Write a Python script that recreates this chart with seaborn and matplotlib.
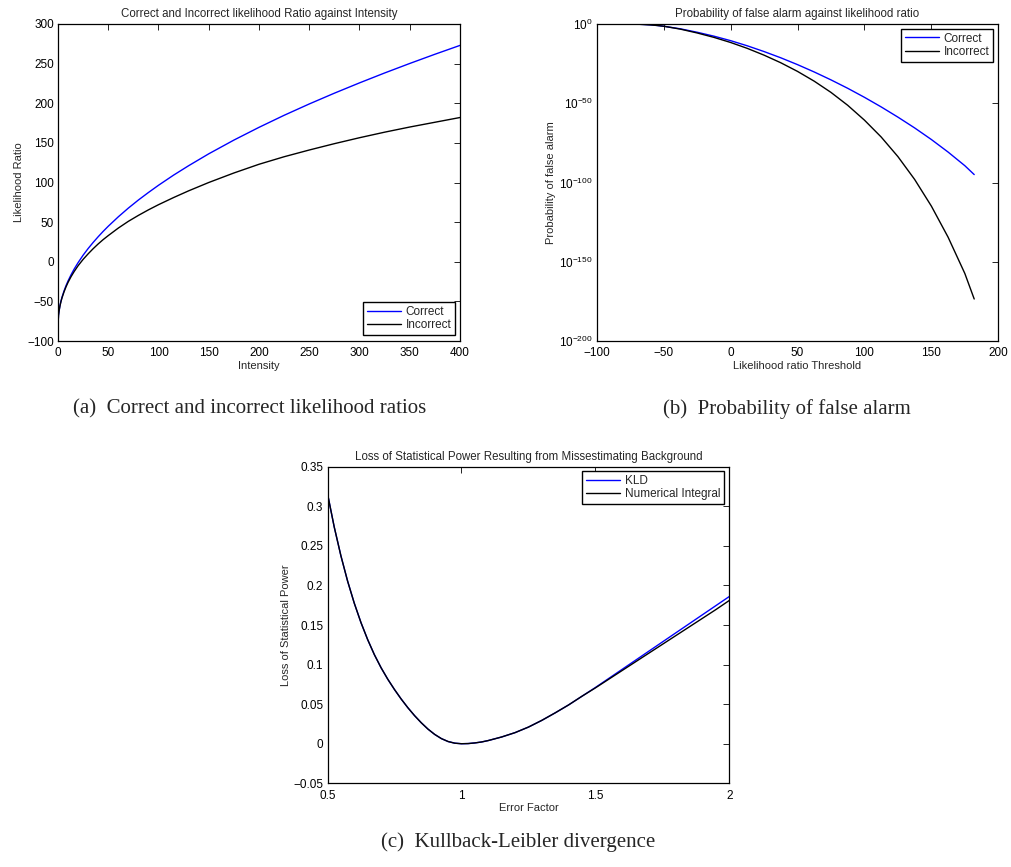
import numpy as np
import pandas as pd
import matplotlib
matplotlib.use("Agg")
import matplotlib.pyplot as plt
from matplotlib.ticker import FixedLocator, FixedFormatter, NullLocator
import seaborn as sns

# ---------------- data ----------------
# (a) likelihood ratio vs intensity
intensity = [0, 0.5, 1, 2, 3, 4, 6, 8, 10, 13, 16, 20, 25, 30, 35, 40, 45, 50,
             60, 70, 80, 90, 100, 115, 130, 150, 175, 200, 225, 250, 275, 300,
             325, 350, 375, 400]
lr_correct = [-80, -67.5, -62.4, -55.0, -49.4, -44.7, -36.8, -30.1, -24.2,
              -16.4, -9.4, -1.1, 8.3, 16.7, 24.4, 31.6, 38.4, 44.8, 56.7, 67.7,
              77.9, 87.4, 96.5, 109.3, 121.2, 136.2, 153.5, 169.6, 184.8, 199.1,
              212.7, 225.7, 238.2, 250.2, 261.8, 273.0]
lr_incorrect = [-80, -67.5, -62.6, -55.5, -50.0, -45.5, -38.0, -31.6, -26.0,
                -18.8, -12.5, -5.0, 3.0, 10.0, 16.5, 22.5, 28.0, 33.0, 42.5,
                51.0, 58.5, 65.5, 72.0, 81.0, 89.5, 100.0, 112.0, 123.0, 132.5,
                141.0, 149.0, 156.5, 163.5, 170.0, 176.0, 182.0]

# (b) probability of false alarm vs threshold (log10 exponent of probability)
threshold = [-80, -75, -70, -65, -60, -55, -50, -37.5, -25, -12.5, 0, 12.5, 25,
             37.5, 50, 62.5, 75, 87.5, 100, 112.5, 125, 137.5, 150, 162.5, 175,
             182]
pfa_correct_exp = [0, -0.03, -0.12, -0.3, -0.55, -0.92, -1.4, -3.04, -5.2,
                   -7.66, -10.5, -13.76, -17.38, -21.32, -25.63, -30.27, -35.25,
                   -40.56, -46.25, -52.31, -58.75, -65.56, -72.88, -80.8, -89.4,
                   -95.0]
pfa_incorrect_exp = [0, -0.03, -0.12, -0.3, -0.55, -0.92, -1.4, -3.24, -5.65,
                     -8.42, -11.65, -15.38, -19.65, -24.45, -29.9, -36.08,
                     -43.15, -51.29, -60.65, -71.29, -83.65, -98.06, -114.9,
                     -134.51, -157.4, -173.5]

# (c) loss of statistical power vs error factor
error_factor = [0.5, 0.525, 0.55, 0.575, 0.6, 0.625, 0.65, 0.675, 0.7, 0.725,
                0.75, 0.775, 0.8, 0.825, 0.85, 0.875, 0.9, 0.925, 0.95, 0.975,
                1.0, 1.025, 1.05, 1.075, 1.1, 1.15, 1.2, 1.25, 1.3, 1.35, 1.4,
                1.45, 1.5, 1.55, 1.6, 1.65, 1.7, 1.75, 1.8, 1.85, 1.9, 1.95, 2.0]
kld = [0.316, 0.274, 0.2375, 0.2055, 0.1775, 0.153, 0.1315, 0.1125, 0.096,
       0.0815, 0.0685, 0.0565, 0.0455, 0.0355, 0.0265, 0.0185, 0.0118, 0.0065,
       0.0028, 0.0007, 0.0, 0.0002, 0.001, 0.0022, 0.004, 0.0085, 0.014, 0.021,
       0.0295, 0.039, 0.049, 0.060, 0.071, 0.0825, 0.094, 0.1055, 0.117,
       0.1285, 0.140, 0.1515, 0.163, 0.1745, 0.186]
numerical = [0.316, 0.274, 0.2375, 0.2055, 0.1775, 0.153, 0.1315, 0.1125,
             0.096, 0.0815, 0.0685, 0.0565, 0.0455, 0.0355, 0.0265, 0.0185,
             0.0118, 0.0065, 0.0028, 0.0007, 0.0, 0.0002, 0.001, 0.0022, 0.004,
             0.0085, 0.014, 0.021, 0.0295, 0.039, 0.049, 0.060, 0.0705, 0.0815,
             0.0925, 0.1035, 0.1145, 0.1255, 0.1365, 0.1475, 0.1585, 0.1695,
             0.181]

# ---------------- style ----------------
sns.set_style("white")
plt.rcParams["font.family"] = ["Liberation Sans", "DejaVu Sans"]
plt.rcParams["mathtext.fontset"] = "custom"
plt.rcParams["mathtext.rm"] = "Liberation Sans"
plt.rcParams["mathtext.it"] = "Liberation Sans"
plt.rcParams["axes.edgecolor"] = "black"
plt.rcParams["axes.linewidth"] = 0.9

W, H = 1012, 867
fig = plt.figure(figsize=(W / 100, H / 100), dpi=100)


def box(l, t, r, b):
    return [l / W, 1 - b / H, (r - l) / W, (b - t) / H]


ax_a = fig.add_axes(box(58, 24, 460, 341))
ax_b = fig.add_axes(box(596.7, 24, 998.3, 341))
ax_c = fig.add_axes(box(327.5, 466.7, 729.3, 783.3))

TICK_FS = 8.5
LAB_FS = 8
TITLE_FS = 8.3
LEG_FS = 8.5


def style(ax):
    ax.tick_params(direction="in", top=True, right=True, length=4, width=0.6,
                   labelsize=TICK_FS, colors="black", pad=3)
    ax.tick_params(axis="x", pad=4.5)
    for s in ax.spines.values():
        s.set_visible(True)
        s.set_color("black")
        s.set_linewidth(0.9)


def legend(ax, loc, anchor):
    leg = ax.legend(loc=loc, bbox_to_anchor=anchor, borderaxespad=0,
                    fontsize=LEG_FS, frameon=True, fancybox=False,
                    framealpha=1, edgecolor="black", handlelength=2.9,
                    labelspacing=0.15, borderpad=0.3, handletextpad=0.4)
    leg.get_frame().set_linewidth(1.0)


# ---------------- (a) ----------------
df_a = pd.DataFrame({"x": intensity, "c": lr_correct, "i": lr_incorrect})
sns.lineplot(data=df_a, x="x", y="c", ax=ax_a, color="blue", lw=1.0,
             label="Correct")
sns.lineplot(data=df_a, x="x", y="i", ax=ax_a, color="black", lw=1.0,
             label="Incorrect")
ax_a.set_xlim(0, 400)
ax_a.set_ylim(-100, 300)
ax_a.set_xticks(np.arange(0, 401, 50))
ax_a.set_yticks(np.arange(-100, 301, 50))
ax_a.set_xlabel("Intensity", fontsize=LAB_FS, labelpad=1)
ax_a.set_ylabel("Likelihood Ratio", fontsize=LAB_FS, labelpad=2)
ax_a.set_title("Correct and Incorrect likelihood Ratio against Intensity",
               fontsize=TITLE_FS, pad=5)
style(ax_a)
legend(ax_a, "lower right", (0.987, 0.019))

# ---------------- (b) ----------------
df_b = pd.DataFrame({"x": threshold,
                     "c": 10.0 ** np.array(pfa_correct_exp),
                     "i": 10.0 ** np.array(pfa_incorrect_exp)})
sns.lineplot(data=df_b, x="x", y="c", ax=ax_b, color="blue", lw=1.0,
             label="Correct")
sns.lineplot(data=df_b, x="x", y="i", ax=ax_b, color="black", lw=1.0,
             label="Incorrect")
ax_b.set_yscale("log")
ax_b.set_xlim(-100, 200)
ax_b.set_ylim(1e-200, 1e0)
ax_b.set_xticks(np.arange(-100, 201, 50))
yt = [1e0, 1e-50, 1e-100, 1e-150, 1e-200]
ax_b.yaxis.set_major_locator(FixedLocator(yt))
ax_b.yaxis.set_major_formatter(FixedFormatter(
    [r"$10^{0}$", r"$10^{-50}$", r"$10^{-100}$", r"$10^{-150}$",
     r"$10^{-200}$"]))
ax_b.yaxis.set_minor_locator(NullLocator())
ax_b.set_xlabel("Likelihood ratio Threshold", fontsize=LAB_FS, labelpad=1)
ax_b.set_ylabel("Probability of false alarm", fontsize=LAB_FS, labelpad=2)
ax_b.set_title("Probability of false alarm against likelihood ratio",
               fontsize=TITLE_FS, pad=5)
style(ax_b)
ax_b.tick_params(axis="y", which="minor", length=0)
legend(ax_b, "upper right", (0.987, 0.984))

# ---------------- (c) ----------------
df_c = pd.DataFrame({"x": error_factor, "k": kld, "n": numerical})
sns.lineplot(data=df_c, x="x", y="k", ax=ax_c, color="blue", lw=1.0,
             label="KLD")
sns.lineplot(data=df_c, x="x", y="n", ax=ax_c, color="black", lw=1.0,
             label="Numerical Integral")
ax_c.set_xlim(0.5, 2)
ax_c.set_ylim(-0.05, 0.35)
ax_c.set_xticks([0.5, 1, 1.5, 2])
ax_c.set_xticklabels(["0.5", "1", "1.5", "2"])
yc = [-0.05, 0, 0.05, 0.1, 0.15, 0.2, 0.25, 0.3, 0.35]
ax_c.set_yticks(yc)
ax_c.set_yticklabels(["\u22120.05", "0", "0.05", "0.1", "0.15", "0.2",
                      "0.25", "0.3", "0.35"])
ax_c.set_xlabel("Error Factor", fontsize=LAB_FS, labelpad=1)
ax_c.set_ylabel("Loss of Statistical Power", fontsize=LAB_FS, labelpad=2)
ax_c.set_title("Loss of Statistical Power Resulting from Missestimating Background",
               fontsize=TITLE_FS, pad=5)
style(ax_c)
legend(ax_c, "upper right", (0.986, 0.986))

# ---------------- captions ----------------
CAP = dict(fontsize=15, family=["Liberation Serif", "DejaVu Serif"],
           ha="center", va="center")
fig.text(250 / W, 1 - 409 / H, "(a)  Correct and incorrect likelihood ratios", **CAP)
fig.text(787 / W, 1 - 409 / H, "(b)  Probability of false alarm", **CAP)
fig.text(518 / W, 1 - 842 / H, "(c)  Kullback-Leibler divergence", **CAP)

fig.savefig("out.png", dpi=100, facecolor="white")
